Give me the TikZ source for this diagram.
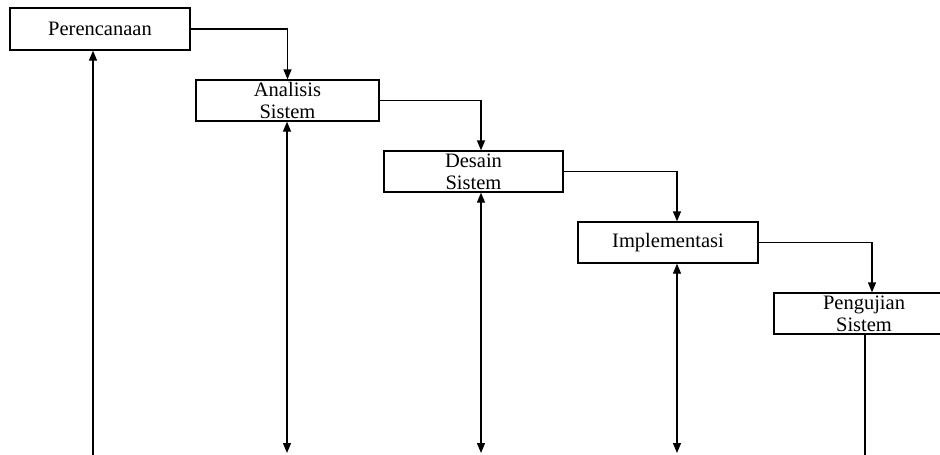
\documentclass[tikz,border=0pt]{standalone}
\usepackage{fontspec}
\setmainfont{Liberation Serif}
\usetikzlibrary{arrows.meta,positioning}

\begin{document}
\begin{tikzpicture}[x=1pt,y=-1pt,>={Triangle[width=8pt,length=10pt]},
box/.style={draw,line width=1.3pt,minimum width=180pt,minimum height=41pt,inner sep=0pt},
txt/.style={align=center,font=\fontsize{20.5}{22}\selectfont,inner sep=0pt},
flow/.style={->,line width=1.3pt}]
\useasboundingbox (0,0) rectangle (940,455);
\node[box,minimum height=42pt,label={[txt]center:Perencanaan}] (p) at (100,29) {};
\node[box,minimum width=183pt,label={[txt]center:Analisis\\Sistem}] (a) at (287.5,100.5) {};
\node[box,minimum width=179pt,label={[txt]center:Desain\\Sistem}] (d) at (473.5,171.5) {};
\node[box,label={[txt]center:Implementasi}] (i) at (668,242.5) {};
\node[box,label={[txt]center:Pengujian\\Sistem}] (u) at (864,313.5) {};
\coordinate (pb) at (93,455);\coordinate (ab) at (287,453);\coordinate (db) at (481,453);
\coordinate (ib) at (677,453);\coordinate (ub) at (865,455);
\draw[flow] (p.east)-|(a.north);\draw[flow] (a.east)-|([xshift=7.5pt]d.north);
\draw[flow] (d.east)-|([xshift=9pt]i.north);\draw[flow] (i.east)-|([xshift=8pt]u.north);
\draw[flow] (pb)--(p.south-|pb);
\draw[flow,<->] (a.south-|ab)--(ab);\draw[flow,<->] (d.south-|db)--(db);\draw[flow,<->] (i.south-|ib)--(ib);
\draw[line width=1.3pt] (u.south-|ub)--(ub);
\end{tikzpicture}
\end{document}
